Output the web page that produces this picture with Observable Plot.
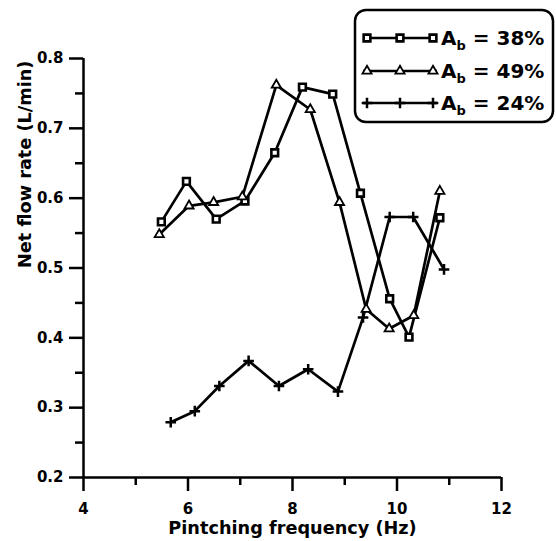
<!DOCTYPE html>
<html><head><meta charset="utf-8">
<script src="https://cdn.jsdelivr.net/npm/d3@7"></script>
<script src="https://cdn.jsdelivr.net/npm/@observablehq/plot@0.6"></script>
<style>
body{margin:0;background:#fff}
#wrap{position:relative;width:556px;height:541px}
#legend{position:absolute;left:0;top:0;pointer-events:none}
</style>
</head><body><div id="wrap"></div>
<script>
// Series values
const seriesKeys = ["38%", "49%", "24%"];
const freq38 = [5.49, 5.97, 6.54, 7.09, 7.66, 8.19, 8.77, 9.30, 9.86, 10.23, 10.82];
const flow38 = [0.566, 0.624, 0.570, 0.596, 0.665, 0.759, 0.749, 0.607, 0.456, 0.401, 0.572];
const freq49 = [5.45, 6.02, 6.49, 7.04, 7.69, 8.34, 8.90, 9.41, 9.85, 10.32, 10.82];
const flow49 = [0.548, 0.589, 0.594, 0.602, 0.762, 0.727, 0.594, 0.441, 0.413, 0.432, 0.610];
const freq24 = [5.67, 6.13, 6.60, 7.16, 7.74, 8.30, 8.87, 9.35, 9.86, 10.31, 10.90];
const flow24 = [0.279, 0.295, 0.331, 0.367, 0.331, 0.355, 0.323, 0.429, 0.573, 0.573, 0.498];
const xMajorTicks = [4, 6, 8, 10, 12];
const xMinorTicks = [5, 7, 9, 11];
const yMajorTicks = [0.2, 0.3, 0.4, 0.5, 0.6, 0.7, 0.8];
const yMinorTicks = [0.25, 0.35, 0.45, 0.55, 0.65, 0.75];
const xLabel = "Pintching frequency (Hz)";
const yLabel = "Net flow rate (L/min)";

const FONT = "'DejaVu Sans', sans-serif";
const symbolOf = {"38%": "square", "49%": "triangle", "24%": "plus"};
const styleOf = {
  "38%": {r: 3.8, fill: "white", strokeWidth: 2.6},
  "49%": {r: 3.4, fill: "white", strokeWidth: 1.8},
  "24%": {r: 3.5, fill: "none", strokeWidth: 2.5}
};

const rows = [];
[[seriesKeys[0], freq38, flow38], [seriesKeys[1], freq49, flow49], [seriesKeys[2], freq24, flow24]]
  .forEach(([s, fx, fy]) => fx.forEach((f, i) => rows.push({s, f, q: fy[i]})));

const dotMarks = seriesKeys.map(s => Plot.dot(rows.filter(d => d.s === s), {
  x: "f", y: "q", symbol: () => symbolOf[s], r: styleOf[s].r,
  fill: styleOf[s].fill, stroke: "black", strokeWidth: styleOf[s].strokeWidth
}));

const chart = Plot.plot({
  width: 556, height: 541,
  marginLeft: 83, marginRight: 55, marginTop: 58, marginBottom: 64,
  style: {fontFamily: FONT, fontWeight: "bold", fontSize: "15px", background: "white", color: "black"},
  x: {domain: [4, 12]},
  y: {domain: [0.2, 0.8]},
  symbol: {type: "identity"},
  marks: [
    Plot.axisY({ticks: yMajorTicks, tickSize: 14, tickPadding: 6, tickFormat: d3.format(".1f"),
      fontSize: 15, fontWeight: "bold", strokeWidth: 2.5, label: null}),
    Plot.axisY({ticks: yMinorTicks, tickSize: 8, tickFormat: () => "", strokeWidth: 2.5, label: null}),
    Plot.axisX({ticks: xMajorTicks, tickSize: 14, tickPadding: 12, tickFormat: d3.format("d"),
      fontSize: 15, fontWeight: "bold", strokeWidth: 2.5, label: null}),
    Plot.axisX({ticks: xMinorTicks, tickSize: 8, tickFormat: () => "", strokeWidth: 2.5, label: null}),
    Plot.ruleX([4], {strokeWidth: 2.5}),
    Plot.ruleY([0.2], {strokeWidth: 2.5}),
    Plot.text([xLabel], {text: d => d, frameAnchor: "bottom", dy: 56, fontSize: 17.7, fontWeight: "bold"}),
    Plot.text([yLabel], {text: d => d, frameAnchor: "left", dx: -58, rotate: -90, fontSize: 17.7, fontWeight: "bold"}),
    Plot.line(rows, {x: "f", y: "q", z: "s", stroke: "black", strokeWidth: 2.7}),
    ...dotMarks
  ]
});
const wrap = document.getElementById("wrap");
wrap.appendChild(chart);

// Legend overlay (inside plot area, top-right, as in the reference)
const legendRowsY = [38, 71, 103];
const svg = d3.select(wrap).append("svg").attr("id", "legend").attr("width", 556).attr("height", 541);
svg.append("rect").attr("x", 355).attr("y", 10).attr("width", 198).attr("height", 112)
  .attr("rx", 11).attr("fill", "white").attr("stroke", "black").attr("stroke-width", 2.5);
const d3sym = {square: d3.symbolSquare, triangle: d3.symbolTriangle, plus: d3.symbolPlus};
seriesKeys.forEach((s, i) => {
  const y = legendRowsY[i];
  const g = svg.append("g");
  g.append("line").attr("x1", 363).attr("x2", 437).attr("y1", y).attr("y2", y)
    .attr("stroke", "black").attr("stroke-width", 2.7);
  const st = styleOf[s];
  const path = d3.symbol(d3sym[symbolOf[s]], Math.PI * st.r * st.r)();
  [367, 400, 433].forEach(x => {
    g.append("path").attr("d", path).attr("transform", `translate(${x},${y})`)
      .attr("fill", st.fill).attr("stroke", "black").attr("stroke-width", st.strokeWidth);
  });
  const t = g.append("text").attr("x", 441).attr("y", y + 7)
    .attr("font-family", FONT).attr("font-weight", "bold").attr("font-size", 20);
  t.append("tspan").text("A");
  t.append("tspan").attr("font-size", 13).attr("dy", 5).text("b");
  t.append("tspan").attr("dy", -5).text(" = " + s);
});
</script>
</body></html>
